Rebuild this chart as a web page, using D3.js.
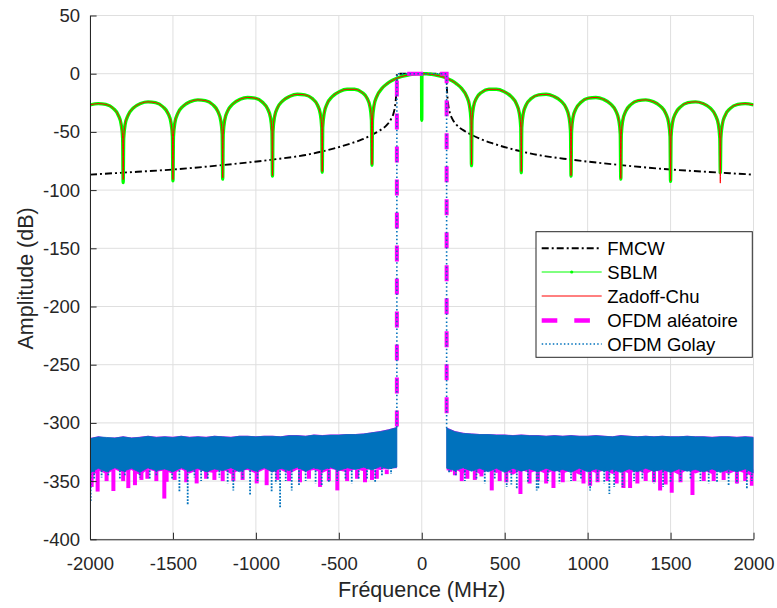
<!DOCTYPE html>
<html><head><meta charset="utf-8">
<script src="https://cdn.jsdelivr.net/npm/d3@7"></script>
<style>
html,body{margin:0;padding:0;background:#fff;}
svg{display:block;font-family:"Liberation Sans",Arial,Helvetica,sans-serif;}
</style></head><body>
<svg id="chart" width="777" height="608"></svg>
<script>
// ---------------- DATA ----------------
const xTicks = [-2000,-1500,-1000,-500,0,500,1000,1500,2000];
const yTicks = [50,0,-50,-100,-150,-200,-250,-300,-350,-400];
const xLabel = "Fréquence (MHz)";
const yLabel = "Amplitude (dB)";
const seriesNames = ["FMCW","SBLM","Zadoff-Chu","OFDM aléatoire","OFDM Golay"];

// FMCW (dash-dot black)
const fmcwFreq = [-2000,-1800,-1500,-1200,-900,-700,-550,-430,-360,-300,-250,-210,-185,-170,-160,-154,-151,-150,-100,-50,0,50,100,150,151,154,160,170,185,210,250,300,360,430,550,700,900,1200,1500,1800,2000];
const fmcwDb   = [-86.7,-85,-82.3,-78.5,-73.8,-69.8,-65,-60,-56.5,-52.5,-48.5,-44,-39,-34,-27,-18,-10,0,0,0,0,0,0,0,-10,-18,-27,-34,-39,-44,-48.5,-52.5,-56.5,-60,-65,-69.8,-73.8,-78.5,-82.3,-85,-86.7];

// SBLM / Zadoff-Chu lobes, positive-frequency side (null = spectral null, depth in arrays below)
const lobeFreq = [30,60,90,120,150,180,210,240,270,288,297,300,
  303,312,330,360,405,450,495,540,570,588,597,600,
  603,612,630,660,705,750,795,840,870,888,897,900,
  903,912,930,960,1005,1050,1095,1140,1170,1188,1197,1200,
  1203,1212,1230,1260,1305,1350,1395,1440,1470,1488,1497,1500,
  1503,1512,1530,1560,1605,1650,1695,1740,1770,1788,1797,1800,
  1803,1812,1830,1860,1905,1950,2000];
const lobeDb = [-0.1,-0.6,-1.3,-2.4,-3.9,-5.9,-8.7,-12.6,-19.2,-27.6,-39.9,null,
  -40.1,-28.3,-21.0,-16.1,-13.4,-13.4,-15.3,-19.7,-25.7,-33.8,-46.0,null,
  -46.1,-34.2,-26.6,-21.4,-18.2,-17.7,-19.4,-23.5,-29.4,-37.4,-49.5,null,
  -49.6,-37.6,-30.0,-24.5,-21.0,-20.4,-22.0,-26.2,-32.0,-39.9,-52.0,null,
  -52.1,-40.1,-32.2,-26.6,-23.1,-22.5,-24.0,-28.0,-33.9,-41.9,-54.0,null,
  -54.0,-42.0,-34.0,-28.5,-24.9,-24.2,-25.6,-29.6,-35.6,-43.5,-55.6,null,
  -55.6,-43.6,-35.5,-29.8,-26.4,-25.7,-26.8];
const sblmNullsRight = [-79,-85,-88,-90.5,-92.5,-85];
const sblmNullsLeft  = [-78.5,-84.5,-88,-90.5,-92,-93.5];
const zcNullsRight   = [-78,-84,-87.5,-90,-92,-94];
const zcNullsLeft    = [-78,-84,-87.5,-89.5,-91,-91];
const centerFreq = [-1,0,1];
const sblmCenter = [0,-40,0];
const zcCenter   = [0,0,0];

// OFDM in-band transitions
const ofdmEdgeFreq = [-150,-150,150,150];
const ofdmRandEdge = [-303,0,0,-305];
const ofdmGolayEdge = [-304,0,0,-304.5];

// Noise floor envelopes (out of band)
const noiseFreqL = [-2000,-1950,-1900,-1850,-1800,-1750,-1700,-1650,-1600,-1550,-1500,-1450,-1400,-1350,-1300,-1250,-1200,-1150,-1100,-1050,-1000,-950,-900,-850,-800,-750,-700,-650,-600,-550,-500,-450,-400,-350,-300,-250,-200,-150];
const noiseFreqR = [150,200,250,300,350,400,450,500,550,600,650,700,750,800,850,900,950,1000,1050,1100,1150,1200,1250,1300,1350,1400,1450,1500,1550,1600,1650,1700,1750,1800,1850,1900,1950,2000];
const golayTopL = [-313.5,-312,-312.5,-313,-312,-313,-312.5,-311.5,-312.5,-312,-312.5,-311.5,-312.5,-312,-312.5,-311.5,-312,-312.5,-311.5,-311.5,-312,-311.5,-311.5,-312,-311,-311,-311.5,-310.5,-311,-310.5,-310.5,-310,-310,-309.5,-308.5,-307.5,-306,-304];
const golayBotL = [-343,-339,-342,-338.5,-341.5,-339,-342.5,-338.5,-341,-339.5,-342,-338.5,-341.5,-339,-342,-339.5,-341,-338.5,-342,-339,-341.5,-338.5,-342,-339,-341,-338,-341.5,-338.5,-340.5,-338,-341,-338.5,-340,-338,-340.5,-337.5,-339.5,-338];
const randTopL  = [-313,-311.5,-312.5,-312.5,-311.5,-312.5,-312,-311,-312,-311.5,-312,-311,-312,-311.5,-312,-311,-311.5,-312,-311,-311,-311.5,-311,-311,-311.5,-310.5,-310.5,-311,-310,-310.5,-310,-310,-309.5,-309.5,-309,-308,-307,-305.5,-303.5];
const randBotL  = [-348,-341,-344,-340,-343,-340.5,-345,-340,-342,-341,-344,-340,-343.5,-340.5,-342,-343,-340,-344,-341,-340.5,-343.5,-340,-342.5,-340.5,-344,-340,-342,-340.5,-343,-339.5,-341,-342.5,-339.5,-341.5,-339,-340.5,-339,-339];
const golayTopR = [-304.5,-307.5,-309,-309.5,-310,-310,-310.5,-310.5,-311,-310.5,-311,-311,-311.5,-311,-311.5,-311,-311.5,-311.5,-311,-311.5,-312,-311,-311.5,-312,-311.5,-312,-311.5,-312,-312,-311.5,-312,-312,-312.5,-312,-312,-312.5,-312,-312.5];
const golayBotR = [-339,-341,-338.5,-341.5,-339,-342,-339,-342.5,-339,-341.5,-339.5,-342,-339,-341.5,-340,-342.5,-339,-342,-339.5,-341.5,-340,-342.5,-339.5,-342,-339,-341.5,-340,-342.5,-339.5,-341.5,-340,-342,-339.5,-342.5,-340,-342,-339.5,-343];
const randTopR  = [-304,-307,-308.5,-309,-309.5,-309.5,-310,-310,-310.5,-310,-310.5,-310.5,-311,-310.5,-311,-310.5,-311,-311,-310.5,-311,-311.5,-310.5,-311,-311.5,-311,-311.5,-311,-311.5,-311.5,-311,-311.5,-311.5,-312,-311.5,-311.5,-312,-311.5,-312];
const randBotR  = [-341,-340,-343.5,-340,-344,-341,-343,-340.5,-344.5,-340.5,-343,-341,-344,-340.5,-343.5,-341,-344.5,-340.5,-343,-341,-344,-340.5,-343.5,-341,-344,-340.5,-343,-341,-344.5,-340.5,-343.5,-341,-344,-340.5,-344,-341,-343.5,-346];

// Deep noise excursions [freq, dB]
const golaySpikes = [[-1996,-368],[-1975,-348],[-1930,-347],[-1890,-346],[-1820,-349],[-1790,-345],[-1700,-347],[-1640,-349],[-1600,-346],[-1505,-348],[-1461,-359],[-1411,-370],[-1370,-347],[-1330,-350],[-1290,-348],[-1220,-347],[-1170,-352],[-1136,-358],[-1080,-348],[-1035,-362],[-990,-350],[-905,-359],[-880,-352],[-854,-373],[-820,-350],[-784,-358],[-740,-354],[-700,-350],[-640,-352],[-603,-354],[-560,-351],[-510,-350],[-460,-349],[-422,-352],[-380,-349],[-330,-348],[-281,-351],[-240,-346],[-185,-344],
  [165,-343],[205,-346],[260,-350],[330,-348],[380,-352],[440,-349],[512,-355],[540,-353],[573,-357],[640,-351],[693,-358],[703,-357],[760,-350],[830,-352],[900,-350],[960,-349],[1015,-358],[1060,-350],[1100,-352],[1131,-361],[1160,-355],[1210,-355],[1280,-350],[1330,-349],[1400,-352],[1455,-355],[1500,-351],[1560,-350],[1620,-349],[1680,-350],[1730,-352],[1780,-351],[1850,-354],[1900,-352],[1960,-357],[1990,-350]];
const randSpikes = [[-1990,-355],[-1954,-359],[-1900,-350],[-1859,-358.5],[-1800,-350],[-1769,-356],[-1729,-353.5],[-1690,-349],[-1654,-348],[-1600,-350],[-1552,-365],[-1538,-350.6],[-1490,-349],[-1420,-351],[-1357,-352],[-1300,-348],[-1250,-349],[-1200,-350],[-1136,-350],[-1080,-349],[-995,-352],[-935,-353.5],[-870,-349],[-800,-350],[-734,-351],[-680,-348],[-613,-355],[-560,-350],[-509,-358],[-450,-350],[-390,-348],[-342,-351],[-300,-349],[-271,-348],[-211,-344],
  [172,-342],[200,-345],[241,-350],[275,-348],[320,-349],[360,-346],[422,-358],[470,-350],[510,-351],[595,-361],[650,-352],[700,-350],[750,-352],[794,-356],[850,-351],[920,-350],[975,-352],[1015,-354],[1060,-351],[1120,-350],[1175,-352],[1216,-356],[1256,-356],[1300,-352],[1350,-350],[1400,-351],[1437,-358],[1470,-353],[1507,-360],[1560,-351],[1632,-362],[1700,-350],[1760,-350],[1820,-349],[1900,-352],[1950,-350],[1990,-354]];

// ---------------- DRAWING ----------------
const svg = d3.select("#chart");
const P = {left:90, right:753.5, top:15.5, bottom:539.3};
const x = d3.scaleLinear().domain([-2000,2000]).range([P.left,P.right]);
const y = d3.scaleLinear().domain([-400,50]).range([P.bottom,P.top]);
const axisColor = "#262626", gridColor = "#dfdfdf";
const cBlue = "#0072bd", cMag = "#ff00ff", cGreen = "#00ff00", cRed = "#ff0000";

svg.append("defs").append("clipPath").attr("id","clip")
  .append("rect").attr("x",P.left).attr("y",P.top).attr("width",P.right-P.left).attr("height",P.bottom-P.top);

// grid
const grid = svg.append("g");
grid.selectAll("line.v").data(xTicks).join("line")
  .attr("x1",d=>x(d)).attr("x2",d=>x(d)).attr("y1",P.top).attr("y2",P.bottom)
  .attr("stroke",gridColor).attr("stroke-width",1);
grid.selectAll("line.h").data(yTicks).join("line")
  .attr("x1",P.left).attr("x2",P.right).attr("y1",d=>y(d)).attr("y2",d=>y(d))
  .attr("stroke",gridColor).attr("stroke-width",1);

const plot = svg.append("g").attr("clip-path","url(#clip)");
const line = d3.line().x(d=>x(d[0])).y(d=>y(d[1])).curve(d3.curveMonotoneX);
const lineLin = d3.line().x(d=>x(d[0])).y(d=>y(d[1]));

// FMCW
const fmcwPts = fmcwFreq.map((f,i)=>[f,fmcwDb[i]]);
plot.append("path").attr("d",line(fmcwPts)).attr("fill","none")
  .attr("stroke","#000").attr("stroke-width",1.9).attr("stroke-dasharray","7,3,2,3");

// SBLM / ZC
function buildLobes(nR, nL, center){
  const right=[], left=[];
  let kr=0, kl=0;
  lobeFreq.forEach((f,i)=>{
    const v = lobeDb[i];
    right.push([f, v===null ? nR[kr++] : v]);
    left.push([-f, v===null ? nL[kl++] : v]);
  });
  const mid = centerFreq.map((f,i)=>[f,center[i]]);
  return left.reverse().concat(mid, right);
}
const sblmPts = buildLobes(sblmNullsRight, sblmNullsLeft, sblmCenter);
const zcPts = buildLobes(zcNullsRight, zcNullsLeft, zcCenter);
plot.append("path").attr("d",line(sblmPts)).attr("fill","none")
  .attr("stroke",cGreen).attr("stroke-width",3.4).attr("stroke-linejoin","round");
plot.append("path").attr("d",line(zcPts)).attr("fill","none")
  .attr("stroke",cRed).attr("stroke-width",1);

// noise bands
const area = d3.area().x(d=>x(d[0])).y0(d=>y(d[2])).y1(d=>y(d[1]));
function band(freqs, top, bot){ return freqs.map((f,i)=>[f,top[i],bot[i]]); }

// OFDM aléatoire (magenta)
[band(noiseFreqL,randTopL,randBotL), band(noiseFreqR,randTopR,randBotR)].forEach(b=>{
  plot.append("path").attr("d",area(b)).attr("fill",cMag);
});
plot.selectAll("line.rs").data(randSpikes).join("line")
  .attr("x1",d=>x(d[0])).attr("x2",d=>x(d[0]))
  .attr("y1",y(-340)).attr("y2",d=>y(d[1]))
  .attr("stroke",cMag).attr("stroke-width",4);
plot.append("path").attr("d",lineLin(ofdmEdgeFreq.map((f,i)=>[f,ofdmRandEdge[i]])))
  .attr("fill","none").attr("stroke",cMag).attr("stroke-width",4).attr("stroke-dasharray","16,17");

// OFDM Golay (blue)
[band(noiseFreqL,golayTopL,golayBotL), band(noiseFreqR,golayTopR,golayBotR)].forEach(b=>{
  plot.append("path").attr("d",area(b)).attr("fill",cBlue).attr("stroke",cBlue).attr("stroke-width",0.8);
});
plot.selectAll("line.gs").data(golaySpikes).join("line")
  .attr("x1",d=>x(d[0])).attr("x2",d=>x(d[0]))
  .attr("y1",y(-338)).attr("y2",d=>y(d[1]))
  .attr("stroke",cBlue).attr("stroke-width",1.8).attr("stroke-dasharray","1.8,1.4");
plot.append("path").attr("d",lineLin(ofdmEdgeFreq.map((f,i)=>[f,ofdmGolayEdge[i]])))
  .attr("fill","none").attr("stroke",cBlue).attr("stroke-width",1.6).attr("stroke-dasharray","1.5,2.4");

// axes
const fs = 18.5;
const xAxis = svg.append("g").attr("transform",`translate(0,${P.bottom})`)
  .call(d3.axisBottom(x).tickValues(xTicks).tickFormat(d=>String(d)).tickSizeInner(-6.6).tickSizeOuter(0).tickPadding(18));
const yAxis = svg.append("g").attr("transform",`translate(${P.left},0)`)
  .call(d3.axisLeft(y).tickValues(yTicks).tickFormat(d=>String(d)).tickSizeInner(-6.6).tickSizeOuter(0).tickPadding(10));
[xAxis,yAxis].forEach(g=>{
  g.attr("font-family",null).attr("font-size",null);
  g.select(".domain").attr("stroke",axisColor).attr("stroke-width",1);
  g.selectAll(".tick line").attr("stroke",axisColor).attr("stroke-width",1);
  g.selectAll(".tick text").attr("fill",axisColor).style("font-size",fs+"px");
});

svg.append("text").attr("x",x(0)).attr("y",597).attr("text-anchor","middle")
  .attr("fill",axisColor).style("font-size","21.5px").text(xLabel);
svg.append("text").attr("transform",`translate(33,${(P.top+P.bottom)/2+1}) rotate(-90)`)
  .attr("text-anchor","middle").attr("fill",axisColor).style("font-size","21.5px").text(yLabel);

// legend
const L = {x:536, y:231.7, w:216.3, h:125.6};
const lg = svg.append("g");
lg.append("rect").attr("x",L.x).attr("y",L.y).attr("width",L.w).attr("height",L.h)
  .attr("fill","#fff").attr("stroke",axisColor).attr("stroke-width",1);
const rows = [248.3,272,296,320.5,344];
const styles = [
  {c:"#000", w:1.9, dash:"7,3,2,3"},
  {c:cGreen, w:1, dash:null, marker:true},
  {c:cRed, w:1, dash:null},
  {c:cMag, w:4.5, dash:"15.6,17"},
  {c:cBlue, w:1.6, dash:"1.5,2.2"}
];
seriesNames.forEach((name,i)=>{
  const s = styles[i], yy = rows[i];
  const ln = lg.append("line").attr("x1",541.7).attr("x2",601.7).attr("y1",yy).attr("y2",yy)
    .attr("stroke",s.c).attr("stroke-width",s.w);
  if (s.dash) ln.attr("stroke-dasharray",s.dash);
  if (s.marker) lg.append("circle").attr("cx",571.7).attr("cy",yy).attr("r",1.6).attr("fill",s.c);
  lg.append("text").attr("x",607.3).attr("y",yy).attr("dy","0.36em")
    .attr("fill","#000").style("font-size",fs+"px").text(name);
});
</script>
</body></html>
